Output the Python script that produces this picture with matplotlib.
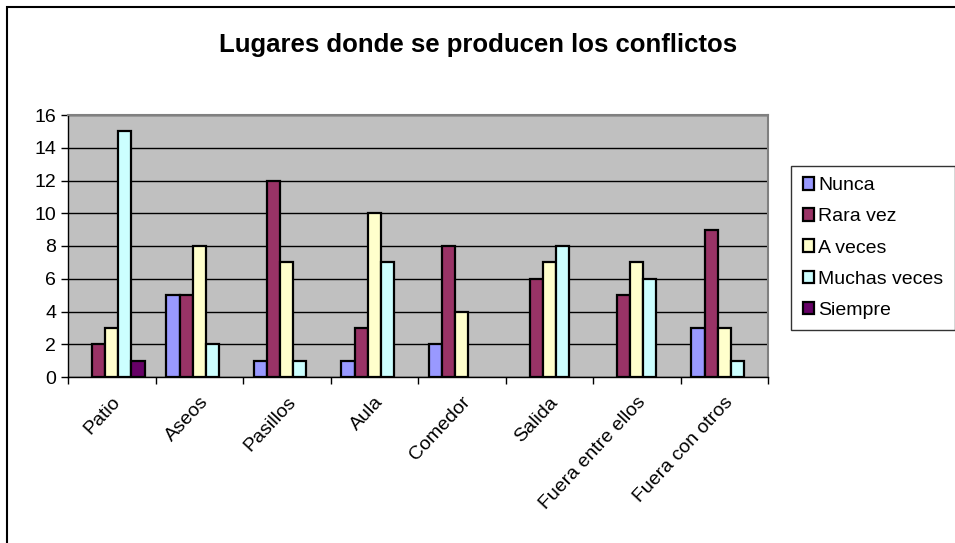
import matplotlib
matplotlib.use('Agg')
from matplotlib import pyplot as plt
from matplotlib.patches import Rectangle
import numpy as np

plt.rcParams['font.family'] = ['Liberation Sans', 'DejaVu Sans']

lugares = ['Patio', 'Aseos', 'Pasillos', 'Aula', 'Comedor', 'Salida',
           'Fuera entre ellos', 'Fuera con otros']
series = ['Nunca', 'Rara vez', 'A veces', 'Muchas veces', 'Siempre']
nunca = [0, 5, 1, 1, 2, 0, 0, 3]
rara_vez = [2, 5, 12, 3, 8, 6, 5, 9]
a_veces = [3, 8, 7, 10, 4, 7, 7, 3]
muchas_veces = [15, 2, 1, 7, 0, 8, 6, 1]
siempre = [1, 0, 0, 0, 0, 0, 0, 0]
colores = ['#9999FF', '#993366', '#FFFFCC', '#CCFFFF', '#660066']

valores = [nunca, rara_vez, a_veces, muchas_veces, siempre]

fig = plt.figure(figsize=(9.55, 5.43), dpi=100)
# marco del grafico
fig.patches.append(Rectangle((6.5 / 955, -0.05), 1.1, 1.05 - 7.5 / 543,
                             transform=fig.transFigure, fill=False,
                             edgecolor='black', linewidth=1.5))

ax = fig.add_axes([68 / 955, 1 - 377 / 543, 700 / 955, 262 / 543])
ax.set_facecolor('#C0C0C0')

x = np.arange(len(lugares))
ancho = 0.15
for i, (nombre, vals, col) in enumerate(zip(series, valores, colores)):
    vals = np.array(vals)
    pos = x + (i - 2) * ancho
    nz = vals > 0  # excel no dibuja las barras en cero
    ax.bar(pos[nz], vals[nz], ancho, color=col, edgecolor='black',
           linewidth=1.6, label=nombre, zorder=3)

ax.set_xlim(-0.5, len(lugares) - 0.5)
ax.set_ylim(0, 16)
ax.set_yticks(range(0, 17, 2))
ax.yaxis.grid(True, color='black', linewidth=1, zorder=1)
ax.set_axisbelow(True)

ax.set_xticks(np.arange(len(lugares) + 1) - 0.5, minor=False)
ax.set_xticklabels([])
ax.set_xticks(x, minor=True)
ax.set_xticklabels(lugares, minor=True, rotation=47, ha='right',
                   rotation_mode='anchor', fontsize=14)
ax.tick_params(axis='x', which='minor', length=0, pad=12)
ax.tick_params(axis='x', which='major', length=5, width=1, direction='out')
ax.tick_params(axis='y', length=5, width=1, direction='out', labelsize=14)

for s in ['top', 'right']:
    ax.spines[s].set_color('#808080')
    ax.spines[s].set_linewidth(1.5)
for s in ['left', 'bottom']:
    ax.spines[s].set_color('black')
    ax.spines[s].set_linewidth(1)

fig.text(478 / 955, 1 - 45 / 543,
         'Lugares donde se producen los conflictos',
         ha='center', va='center', fontsize=18.5, fontweight='bold')

leg = fig.legend(loc='center left', bbox_to_anchor=(791 / 955, 1 - 248 / 543),
                 frameon=True, fancybox=False, edgecolor='black',
                 fontsize=14, handlelength=0.6, handleheight=0.6,
                 handletextpad=0.2, labelspacing=0.72, borderpad=0.6,
                 borderaxespad=0)
leg.get_frame().set_linewidth(1)

fig.savefig('out.png', dpi=100)
